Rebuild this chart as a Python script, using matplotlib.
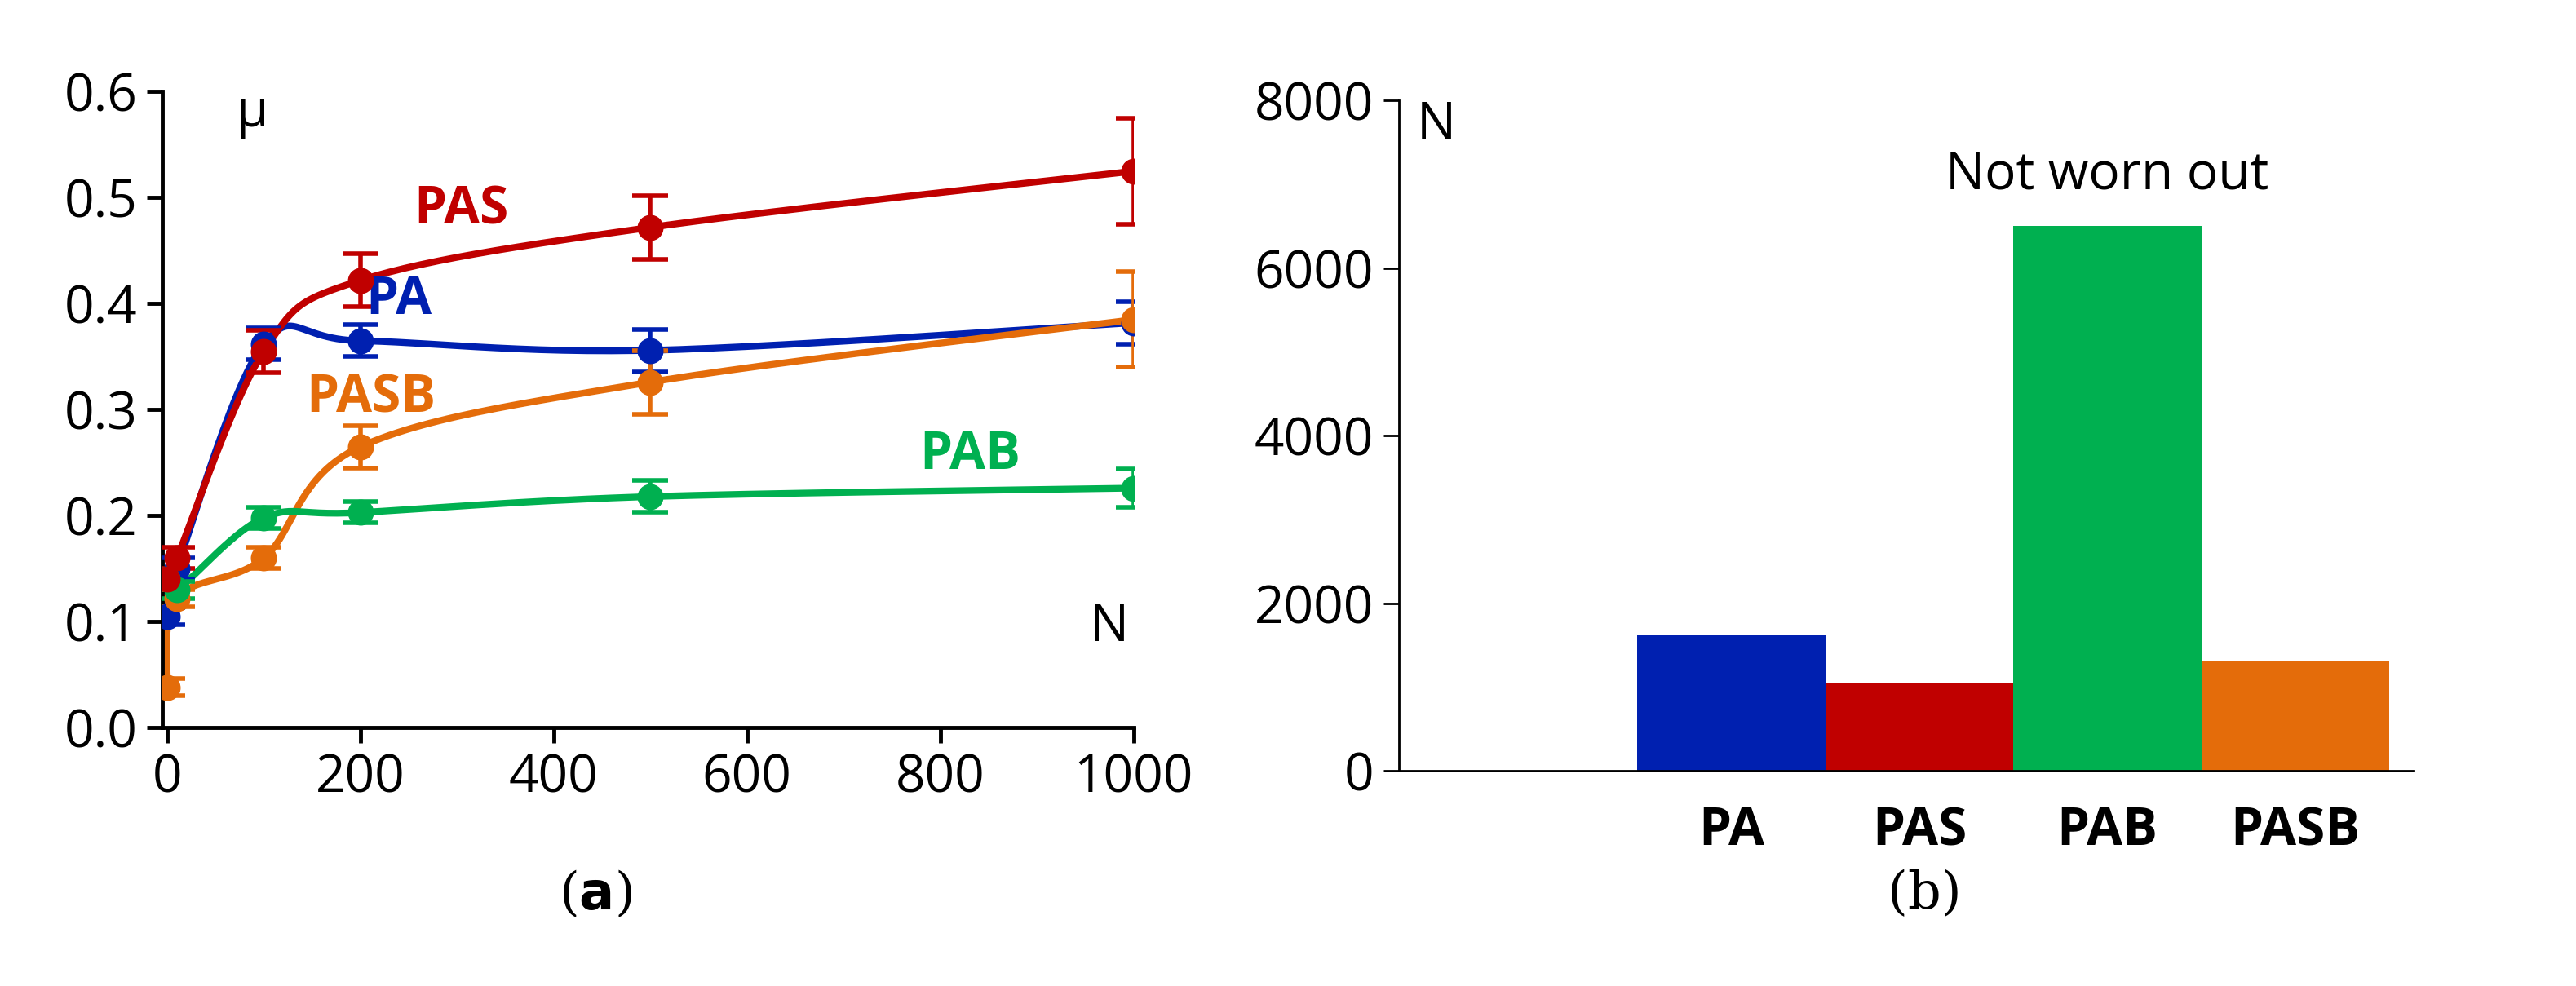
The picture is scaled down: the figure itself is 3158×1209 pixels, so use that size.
import matplotlib
matplotlib.use("Agg")
import matplotlib.pyplot as plt
import numpy as np

cycles = [0, 10, 100, 200, 500, 1000]
mu_pa = [0.105, 0.150, 0.362, 0.365, 0.356, 0.382]
err_pa = [0.008, 0.010, 0.015, 0.015, 0.020, 0.020]
mu_pas = [0.140, 0.160, 0.355, 0.422, 0.472, 0.525]
err_pas = [0.008, 0.010, 0.020, 0.025, 0.030, 0.050]
mu_pab = [0.140, 0.130, 0.198, 0.203, 0.218, 0.226]
err_pab = [0.008, 0.008, 0.010, 0.010, 0.015, 0.018]
mu_pasb = [0.038, 0.122, 0.160, 0.265, 0.326, 0.385]
err_pasb = [0.008, 0.008, 0.010, 0.020, 0.030, 0.045]

materials = ["PA", "PAS", "PAB", "PASB"]
wear_cycles = [1620, 1060, 6500, 1320]

BLUE = "#0020B0"
RED = "#C00000"
GREEN = "#00B050"
ORANGE = "#E46C0A"
FONT = "Open Sans"
FS = 46


def smooth(x, y, n=30):
    # Catmull-Rom through the points, like Excel's smoothed line
    p = np.column_stack([x, y]).astype(float)
    p = np.vstack([p[0], p, p[-1]])
    out = []
    t = np.linspace(0, 1, n)[:, None]
    for i in range(1, len(p) - 2):
        p0, p1, p2, p3 = p[i - 1], p[i], p[i + 1], p[i + 2]
        seg = 0.5 * ((2 * p1) + (-p0 + p2) * t + (2 * p0 - 5 * p1 + 4 * p2 - p3) * t ** 2
                     + (-p0 + 3 * p1 - 3 * p2 + p3) * t ** 3)
        out.append(seg)
    out = np.vstack(out)
    return out[:, 0], out[:, 1]


fig = plt.figure(figsize=(31.58, 12.09), dpi=100)
ax1 = fig.add_axes([0.063, 0.262, 0.377, 0.645])
ax2 = fig.add_axes([0.543, 0.218, 0.394, 0.680])

series = [(mu_pa, err_pa, BLUE), (mu_pasb, err_pasb, ORANGE),
          (mu_pab, err_pab, GREEN), (mu_pas, err_pas, RED)]
for mu, err, col in series:
    sx, sy = smooth(cycles, mu)
    ax1.plot(sx, sy, color=col, lw=6, zorder=2)
    ax1.errorbar(cycles, mu, yerr=err, fmt="o", color=col, ms=22, elinewidth=4,
                 capsize=16, capthick=4, zorder=3)

ax1.set_xlim(-5, 1000)
ax1.set_ylim(0, 0.6)
ax1.set_xticks(range(0, 1001, 200))
ax1.set_yticks(np.arange(0, 0.61, 0.1))
ax1.set_yticklabels([f"{v:.1f}" for v in np.arange(0, 0.61, 0.1)])
for s in ["top", "right"]:
    ax1.spines[s].set_visible(False)
for s in ["left", "bottom"]:
    ax1.spines[s].set_linewidth(3.5)
ax1.tick_params(width=3.5, length=14, labelsize=FS, pad=8)
for lab in ax1.get_xticklabels() + ax1.get_yticklabels():
    lab.set_fontfamily(FONT)

ax1.text(88, 0.58, "μ", fontsize=FS, ha="center", va="center", family=FONT)
ax1.text(975, 0.095, "N", fontsize=FS, ha="center", va="center", family=FONT)
lab = dict(fontsize=FS, fontweight="bold", ha="center", va="center", family=FONT)
ax1.text(304, 0.488, "PAS", color=RED, **lab)
ax1.text(240, 0.403, "PA", color=BLUE, **lab)
ax1.text(211, 0.31, "PASB", color=ORANGE, **lab)
ax1.text(831, 0.257, "PAB", color=GREEN, **lab)

pos = np.arange(len(materials))
ax2.bar(pos, wear_cycles, width=1.0, color=[BLUE, RED, GREEN, ORANGE])
ax2.set_xlim(-1.77, 3.63)
ax2.set_ylim(0, 8000)
ax2.set_yticks(range(0, 8001, 2000))
ax2.set_xticks(pos)
ax2.set_xticklabels(materials, fontsize=FS, fontweight="bold", family=FONT)
for s in ["top", "right"]:
    ax2.spines[s].set_visible(False)
ax2.spines["left"].set_linewidth(2)
ax2.spines["bottom"].set_linewidth(2)
ax2.tick_params(axis="y", width=2, length=14, labelsize=FS, pad=8)
ax2.tick_params(axis="x", length=0, pad=30)
for t in ax2.get_yticklabels():
    t.set_fontfamily(FONT)
ax2.text(-1.57, 7700, "N", fontsize=FS, ha="center", va="center", family=FONT)
ax2.text(2, 6800, "Not worn out", fontsize=FS, ha="center", va="bottom", family=FONT)

fig.text(0.231, 0.093, r"($\mathbf{a}$)", fontsize=FS, ha="center", va="center",
         family="DejaVu Serif")
fig.text(0.747, 0.093, "(b)", fontsize=FS, ha="center", va="center", family="DejaVu Serif")

fig.savefig("out.png", dpi=100)
